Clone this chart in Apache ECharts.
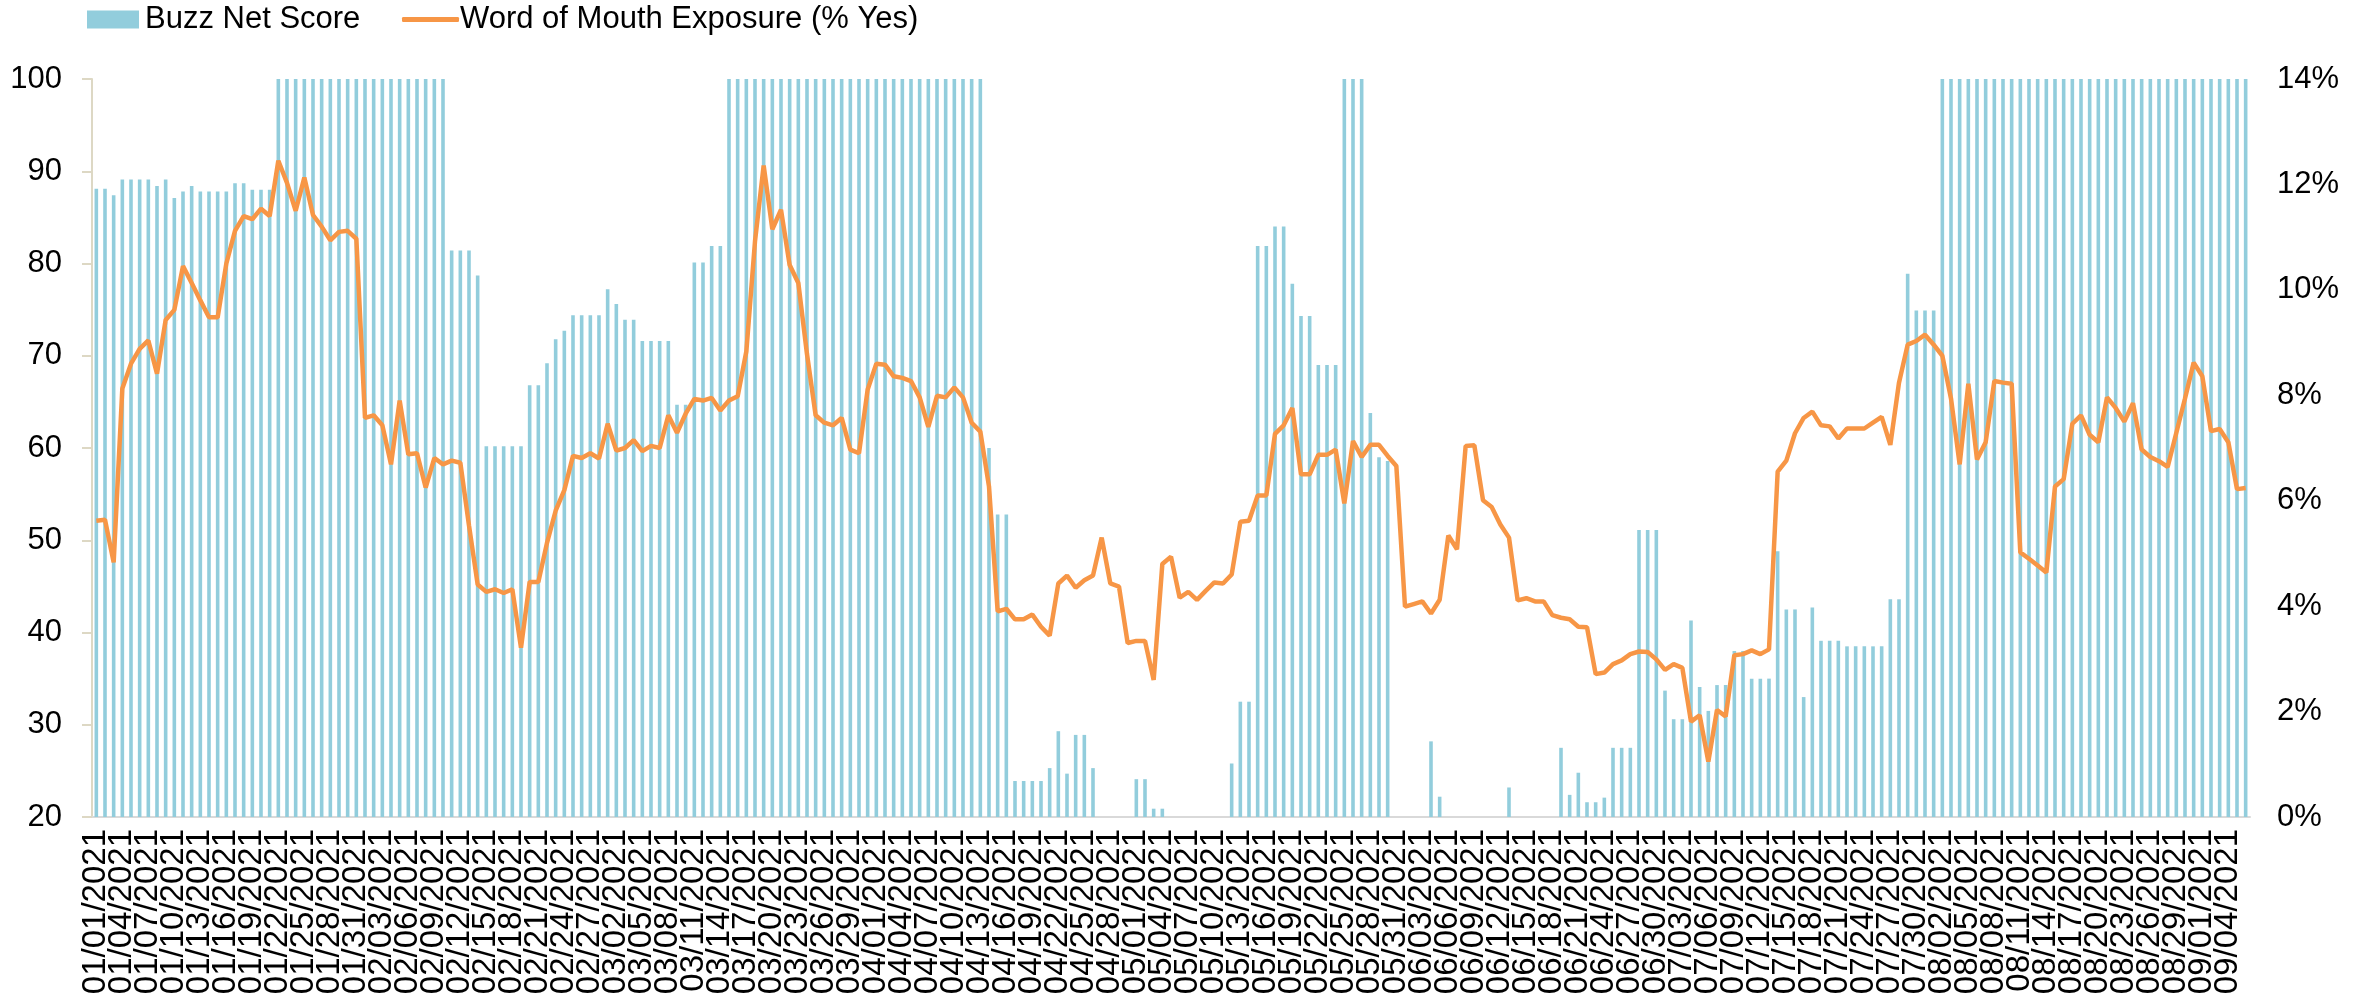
<!DOCTYPE html>
<html>
<head>
<meta charset="utf-8">
<script src="https://cdn.jsdelivr.net/npm/echarts@6/dist/echarts.min.js"></script>
<style>
  html, body { margin: 0; padding: 0; background: #fff; }
  #chart { width: 2371px; height: 1001px; }
</style>
</head>
<body>
<div id="chart"></div>
<script>
// daily categories, 01/01/2021 .. 09/06/2021
const MONTH_DAYS = [31, 28, 31, 30, 31, 30, 31, 31, 6];
const dates = [];
MONTH_DAYS.forEach((n, m) => {
  for (let d = 1; d <= n; d++) {
    dates.push(String(m + 1).padStart(2, "0") + "/" + String(d).padStart(2, "0") + "/2021");
  }
});

// Buzz Net Score (left axis, floor 20)
const buzzNetScore = [
  88.1, 88.1, 87.4, 89.1, 89.1, 89.1, 89.1, 88.4, 89.1, 87.1,   // 0-9
  87.8, 88.4, 87.8, 87.8, 87.8, 87.8, 88.7, 88.7, 88.0, 88.0,   // 10-19
  88.0, 100, 100, 100, 100, 100, 100, 100, 100, 100,            // 20-29
  100, 100, 100, 100, 100, 100, 100, 100, 100, 100,             // 30-39
  100, 81.4, 81.4, 81.4, 78.7, 60.2, 60.2, 60.2, 60.2, 60.2,    // 40-49
  66.8, 66.8, 69.2, 71.8, 72.7, 74.4, 74.4, 74.4, 74.4, 77.2,   // 50-59
  75.6, 73.9, 73.9, 71.6, 71.6, 71.6, 71.6, 64.7, 64.7, 80.1,   // 60-69
  80.1, 81.9, 81.9, 100, 100, 100, 100, 100, 100, 100,          // 70-79
  100, 100, 100, 100, 100, 100, 100, 100, 100, 100,             // 80-89
  100, 100, 100, 100, 100, 100, 100, 100, 100, 100,             // 90-99
  100, 100, 100, 60.0, 52.8, 52.8, 23.9, 23.9, 23.9, 23.9,      // 100-109
  25.3, 29.3, 24.7, 28.9, 28.9, 25.3, 20, 20, 20, 20,           // 110-119
  24.1, 24.1, 20.9, 20.9, 20, 20, 20, 20, 20, 20,               // 120-129
  20, 25.8, 32.5, 32.5, 81.9, 81.9, 84.0, 84.0, 77.8, 74.3,     // 130-139
  74.3, 69.0, 69.0, 69.0, 100, 100, 100, 63.8, 59.0, 58.6,      // 140-149
  20, 20, 20, 20, 28.2, 22.2, 20, 20, 20, 20,                   // 150-159
  20, 20, 20, 23.2, 20, 20, 20, 20, 20, 27.5,                   // 160-169
  22.4, 24.8, 21.6, 21.6, 22.1, 27.5, 27.5, 27.5, 51.1, 51.1,   // 170-179
  51.1, 33.7, 30.6, 30.6, 41.3, 34.1, 31.5, 34.3, 34.3, 38.0,   // 180-189
  38.0, 35.0, 35.0, 35.0, 48.8, 42.5, 42.5, 33.0, 42.7, 39.1,   // 190-199
  39.1, 39.1, 38.5, 38.5, 38.5, 38.5, 38.5, 43.6, 43.6, 78.9,   // 200-209
  74.9, 74.9, 74.9, 100, 100, 100, 100, 100, 100, 100,          // 210-219
  100, 100, 100, 100, 100, 100, 100, 100, 100, 100,             // 220-229
  100, 100, 100, 100, 100, 100, 100, 100, 100, 100,             // 230-239
  100, 100, 100, 100, 100, 100, 100, 100, 100                   // 240-248
];

// Word of Mouth Exposure, % Yes (right axis)
const wordOfMouth = [
  5.62, 5.64, 4.83, 8.13, 8.6, 8.88, 9.04, 8.41, 9.43, 9.62,
  10.45, 10.13, 9.8, 9.48, 9.48, 10.5, 11.12, 11.4, 11.34, 11.54,
  11.4, 12.45, 12.03, 11.5, 12.13, 11.42, 11.2, 10.94, 11.1, 11.12,
  10.97, 7.57, 7.62, 7.43, 6.69, 7.9, 6.88, 6.9, 6.25, 6.81,
  6.69, 6.76, 6.72, 5.53, 4.41, 4.27, 4.32, 4.25, 4.32, 3.21,
  4.46, 4.46, 5.2, 5.81, 6.2, 6.85, 6.81, 6.9, 6.8, 7.46,
  6.95, 7.0, 7.15, 6.94, 7.04, 7.0, 7.62, 7.29, 7.65, 7.93,
  7.9, 7.95, 7.71, 7.9, 7.98, 8.83, 10.92, 12.36, 11.15, 11.52,
  10.47, 10.13, 8.78, 7.62, 7.48, 7.43, 7.57, 6.97, 6.9, 8.11,
  8.6, 8.58, 8.36, 8.33, 8.27, 7.96, 7.4, 7.99, 7.96, 8.15,
  7.96, 7.48, 7.31, 6.27, 3.9, 3.95, 3.75, 3.75, 3.84, 3.61,
  3.44, 4.43, 4.58, 4.35, 4.49, 4.58, 5.3, 4.43, 4.37, 3.3,
  3.34, 3.34, 2.6, 4.8, 4.94, 4.16, 4.27, 4.12, 4.29, 4.45,
  4.43, 4.6, 5.6, 5.62, 6.1, 6.1, 7.27, 7.43, 7.76, 6.5,
  6.5, 6.87, 6.87, 6.97, 5.95, 7.13, 6.83, 7.06, 7.06, 6.85,
  6.66, 3.99, 4.04, 4.09, 3.86, 4.12, 5.34, 5.08, 7.04, 7.05,
  6.01, 5.88, 5.55, 5.3, 4.11, 4.15, 4.09, 4.09, 3.83, 3.78,
  3.75, 3.61, 3.6, 2.71, 2.74, 2.9, 2.97, 3.09, 3.14, 3.13,
  2.99, 2.79, 2.9, 2.83, 1.81, 1.93, 1.05, 2.03, 1.91, 3.07,
  3.09, 3.16, 3.09, 3.18, 6.55, 6.76, 7.28, 7.57, 7.69, 7.43,
  7.41, 7.18, 7.37, 7.37, 7.37, 7.48, 7.59, 7.06, 8.24, 8.96,
  9.03, 9.15, 8.96, 8.75, 7.94, 6.69, 8.22, 6.78, 7.11, 8.27,
  8.24, 8.22, 5.02, 4.9, 4.77, 4.64, 6.27, 6.41, 7.46, 7.62,
  7.25, 7.11, 7.96, 7.76, 7.5, 7.85, 6.97, 6.83, 6.75, 6.64,
  7.29, 7.94, 8.62, 8.36, 7.32, 7.36, 7.11, 6.22, 6.24
];

const FONT = "'Liberation Sans', Arial, sans-serif";
const BUZZ = "Buzz Net Score";
const WOM = "Word of Mouth Exposure (% Yes)";
const LABEL_STEP = 3; // a date label every third day

const chart = echarts.init(document.getElementById("chart"));
chart.setOption({
  animation: false,
  backgroundColor: "#fff",
  textStyle: { fontFamily: FONT, color: "#000" },
  legend: [
    { data: [{ name: BUZZ, icon: "rect" }], left: 87, top: 4, padding: 0, itemWidth: 52, itemHeight: 18,
      textStyle: { fontSize: 31, color: "#000", fontFamily: FONT, padding: [0, 0, 0, 1] } },
    { data: [{ name: WOM, icon: "roundRect" }], left: 402, top: 4, padding: 0, itemWidth: 57, itemHeight: 5,
      textStyle: { fontSize: 31, color: "#000", fontFamily: FONT, padding: [0, 0, 0, -4] } }
  ],
  grid: { left: 92, right: 121, top: 79, bottom: 184 },
  xAxis: {
    type: "category",
    data: dates,
    boundaryGap: true,
    axisLine: { lineStyle: { color: "#d9d9d9", width: 2 } },
    axisTick: { show: false },
    axisLabel: {
      // every category gets a label slot, only every third one has text
      interval: 0,
      formatter: (v, i) => (i % LABEL_STEP === 0 ? v : ""),
      rotate: 90, fontSize: 33, margin: 12, color: "#000", fontFamily: FONT
    }
  },
  yAxis: [
    {
      type: "value", min: 20, max: 100, interval: 10,
      splitLine: { show: false },
      axisLine: { show: true, lineStyle: { color: "#ddd8c4", width: 2 } },
      axisTick: { show: true, length: 10, lineStyle: { color: "#ddd8c4", width: 2 } },
      axisLabel: { fontSize: 31, margin: 30, color: "#000", fontFamily: FONT }
    },
    {
      type: "value", min: 0, max: 14, interval: 2,
      splitLine: { show: false },
      axisLine: { show: false },
      axisTick: { show: false },
      axisLabel: { fontSize: 31, margin: 27, color: "#000", fontFamily: FONT, formatter: "{value}%" }
    }
  ],
  series: [
    {
      name: BUZZ, type: "bar", yAxisIndex: 0, data: buzzNetScore,
      barWidth: 3.6, itemStyle: { color: "#92cddc" }
    },
    {
      name: WOM, type: "line", yAxisIndex: 1, data: wordOfMouth,
      symbol: "none", lineStyle: { color: "#f79646", width: 4.5 }, itemStyle: { color: "#f79646" }
    }
  ]
});
</script>
</body>
</html>
